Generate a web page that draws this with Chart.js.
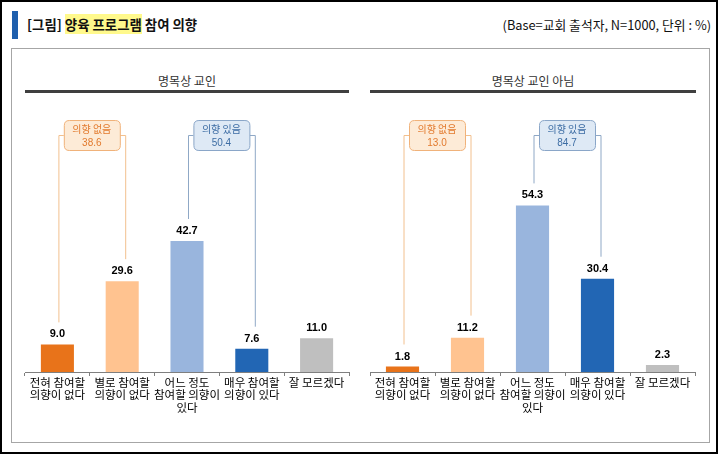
<!DOCTYPE html>
<html>
<head>
<meta charset="utf-8">
<script src="https://cdn.jsdelivr.net/npm/chart.js@4.4.1/dist/chart.umd.min.js"></script>
<style>
  html,body{margin:0;padding:0;background:#fff;}
  #page{position:relative;width:718px;height:454px;box-sizing:border-box;border:2px solid #000;overflow:hidden;font-family:"Noto Sans CJK KR","Noto Sans",sans-serif;}
  #accent{position:absolute;left:10px;top:9px;width:6px;height:28px;background:#1F5FAD;}
  #title{position:absolute;left:25px;top:13px;font-size:13.4px;font-weight:bold;color:#111;line-height:19px;white-space:nowrap;}
  #title .hl{background:#FFF98C;}
  #base{position:absolute;right:5px;top:13px;font-size:12.8px;color:#111;line-height:19px;white-space:nowrap;}
  #panel{position:absolute;left:9px;top:46px;width:699px;height:395px;box-sizing:border-box;border:1px solid #A6A6A6;}
  .sec{position:absolute;top:70px;font-size:12px;color:#333;text-align:center;line-height:18px;}
  .rule{position:absolute;top:88px;height:3px;background:#3F3F3F;}
  canvas{position:absolute;}
</style>
</head>
<body>
<div id="page">
  <div id="accent"></div>
  <div id="title">[그림] <span class="hl">양육 프로그램</span> 참여 의향</div>
  <div id="base">(Base=교회 출석자, N=1000, 단위 : %)</div>
  <div id="panel"></div>
  <div class="sec" id="sec1" style="left:23px;width:324px;">명목상 교인</div>
  <div class="rule" style="left:23px;width:324px;"></div>
  <div class="sec" id="sec2" style="left:368px;width:326px;">명목상 교인 아님</div>
  <div class="rule" style="left:368px;width:326px;"></div>
  <div style="position:absolute;left:18px;top:93px;width:334px;height:345px;"><canvas id="c1"></canvas></div>
  <div style="position:absolute;left:363px;top:93px;width:335px;height:345px;"><canvas id="c2"></canvas></div>
</div>
<script>
const categories = [
  ["전혀 참여할","의향이 없다"],
  ["별로 참여할","의향이 없다"],
  ["어느 정도","참여할 의향이","있다"],
  ["매우 참여할","의향이 있다"],
  ["잘 모르겠다"]
];
const sectionTitles = ["명목상 교인", "명목상 교인 아님"];
const nominalValues = [9.0, 29.6, 42.7, 7.6, 11.0];
const nonNominalValues = [1.8, 11.2, 54.3, 30.4, 2.3];
const noIntentTotals = [38.6, 13.0];
const yesIntentTotals = [50.4, 84.7];
const groupLabels = ["의향 없음", "의향 있음"];
const barColors = ["#E8731A", "#FFC390", "#99B5DD", "#2266B4", "#BFBFBF"];

const valueLabelPlugin = {
  id: 'valueLabels',
  afterDatasetsDraw(chart) {
    const ctx = chart.ctx;
    const meta = chart.getDatasetMeta(0);
    const data = chart.data.datasets[0].data;
    ctx.save();
    ctx.font = 'bold 11px "Liberation Sans", Arial, sans-serif';
    ctx.fillStyle = '#000';
    ctx.textAlign = 'center';
    ctx.textBaseline = 'middle';
    meta.data.forEach((bar, i) => {
      ctx.fillText(data[i].toFixed(1), bar.x, bar.y - 10);
    });
    ctx.restore();
  }
};

function roundRect(ctx, x, y, w, h, r) {
  ctx.beginPath();
  ctx.moveTo(x + r, y);
  ctx.lineTo(x + w - r, y);
  ctx.quadraticCurveTo(x + w, y, x + w, y + r);
  ctx.lineTo(x + w, y + h - r);
  ctx.quadraticCurveTo(x + w, y + h, x + w - r, y + h);
  ctx.lineTo(x + r, y + h);
  ctx.quadraticCurveTo(x, y + h, x, y + h - r);
  ctx.lineTo(x, y + r);
  ctx.quadraticCurveTo(x, y, x + r, y);
  ctx.closePath();
}

const bracketPlugin = {
  id: 'brackets',
  afterDatasetsDraw(chart, args, opts) {
    const ctx = chart.ctx;
    const meta = chart.getDatasetMeta(0);
    const xs = chart.scales.x;
    ctx.save();
    opts.groups.forEach(g => {
      const x0 = xs.getPixelForValue(g.from) + 1;
      const x1 = xs.getPixelForValue(g.to) + 3;
      const cx = (x0 + x1) / 2;
      const hy = opts.lineY;
      const bw = 56, bh = 30, by = opts.boxTop;
      const y0 = meta.data[g.from].y - 22;
      const y1 = meta.data[g.to].y - 22;
      ctx.strokeStyle = g.line;
      ctx.lineWidth = 1;
      ctx.beginPath();
      ctx.moveTo(x0 + 0.5, y0);
      ctx.lineTo(x0 + 0.5, hy + 0.5);
      ctx.lineTo(cx - bw / 2, hy + 0.5);
      ctx.moveTo(cx + bw / 2, hy + 0.5);
      ctx.lineTo(x1 + 0.5, hy + 0.5);
      ctx.lineTo(x1 + 0.5, y1);
      ctx.stroke();
      roundRect(ctx, cx - bw / 2 + 0.5, by + 0.5, bw, bh, 5);
      ctx.fillStyle = g.fill;
      ctx.fill();
      ctx.strokeStyle = g.border;
      ctx.stroke();
      ctx.fillStyle = g.text;
      ctx.textAlign = 'center';
      ctx.textBaseline = 'middle';
      ctx.font = '10px "Noto Sans CJK KR", sans-serif';
      ctx.fillText(g.label, cx, by + 9);
      ctx.font = '10px "Liberation Sans", Arial, sans-serif';
      ctx.fillText(g.value.toFixed(1), cx, by + 23);
    });
    ctx.restore();
  }
};

function makeChart(id, values, k) {
  return new Chart(document.getElementById(id), {
    type: 'bar',
    data: {
      labels: categories,
      datasets: [{
        data: values,
        backgroundColor: barColors,
        borderWidth: 0,
        barPercentage: 0.51,
        categoryPercentage: 1.0
      }]
    },
    plugins: [valueLabelPlugin, bracketPlugin],
    options: {
      responsive: true,
      maintainAspectRatio: false,
      animation: false,
      layout: { padding: { left: 5, right: 5, top: 7, bottom: 0 } },
      plugins: {
        legend: { display: false },
        tooltip: { enabled: false },
        brackets: {
          lineY: 40,
          boxTop: 25,
          groups: [
            { from: 0, to: 1, label: groupLabels[0], value: noIntentTotals[k],
              line: '#F2C08E', border: '#F0B27A', fill: '#FDEBD7', text: '#E27A2E' },
            { from: 2, to: 3, label: groupLabels[1], value: yesIntentTotals[k],
              line: '#8FA8C6', border: '#8AA6C8', fill: '#DEE9F5', text: '#3D6DA4' }
          ]
        }
      },
      scales: {
        y: { display: false, min: 0, max: 88 },
        x: {
          afterFit(scale) { scale.height = 68; },
          border: { display: true, color: '#7F7F7F', width: 1 },
          grid: { display: true, drawOnChartArea: false, drawTicks: true, tickLength: 4, color: '#7F7F7F', offset: true },
          ticks: {
            autoSkip: false, maxRotation: 0, minRotation: 0, padding: 0,
            color: '#000',
            font: { family: '"Noto Sans CJK KR", sans-serif', size: 11.5, lineHeight: 1.1 }
          }
        }
      }
    }
  });
}

document.getElementById('sec1').textContent = sectionTitles[0];
document.getElementById('sec2').textContent = sectionTitles[1];
makeChart('c1', nominalValues, 0);
makeChart('c2', nonNominalValues, 1);
</script>
</body>
</html>
